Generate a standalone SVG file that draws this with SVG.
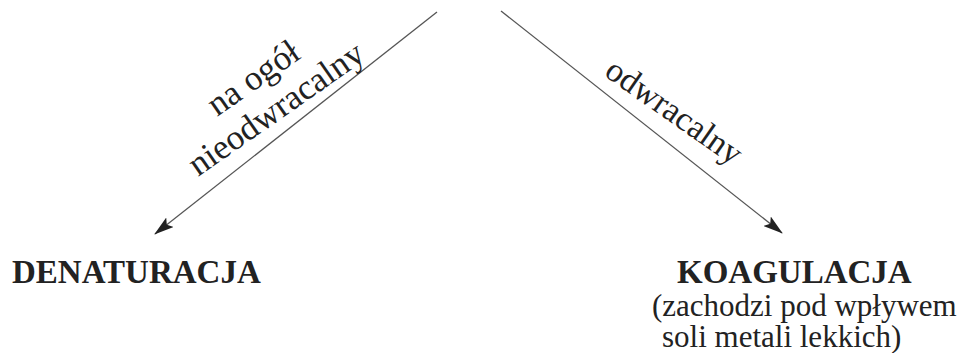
<svg xmlns="http://www.w3.org/2000/svg" width="959" height="353" viewBox="0 0 959 353">
<style>
.t{font-family:"Liberation Serif","Times New Roman",serif;fill:#222}
.b{font-weight:bold;font-size:33px}
.r{font-size:31px}
.rr{font-size:35px}
.ln{stroke:#555;stroke-width:1.3;fill:none}
</style>
<defs>
<marker id="ah" viewBox="0 0 20 12" refX="19" refY="6" markerWidth="20" markerHeight="12" markerUnits="userSpaceOnUse" orient="auto">
<path d="M0,0 L20,6 L0,12 L4,6 Z" fill="#222"/>
</marker>
</defs>
<rect width="959" height="353" fill="#fff"/>
<g id="connectors">
<line class="ln" x1="437" y1="12" x2="155" y2="234" marker-end="url(#ah)"/>
<line class="ln" x1="501" y1="11" x2="782" y2="233" marker-end="url(#ah)"/>
<text class="t rr" transform="translate(198,177) rotate(-35)">nieodwracalny</text>
<text class="t rr" transform="translate(217,117) rotate(-35)">na ogół</text>
<text class="t rr" style="font-size:34px" transform="translate(603,75) rotate(35)">odwracalny</text>
</g>
<g id="denaturacja">
<text class="t b" x="12" y="283">DENATURACJA</text>
</g>
<g id="koagulacja">
<text class="t b" x="677" y="283">KOAGULACJA</text>
<text class="t r" x="652" y="316">(zachodzi pod wpływem</text>
<text class="t r" x="662" y="347">soli metali lekkich)</text>
</g>
</svg>
